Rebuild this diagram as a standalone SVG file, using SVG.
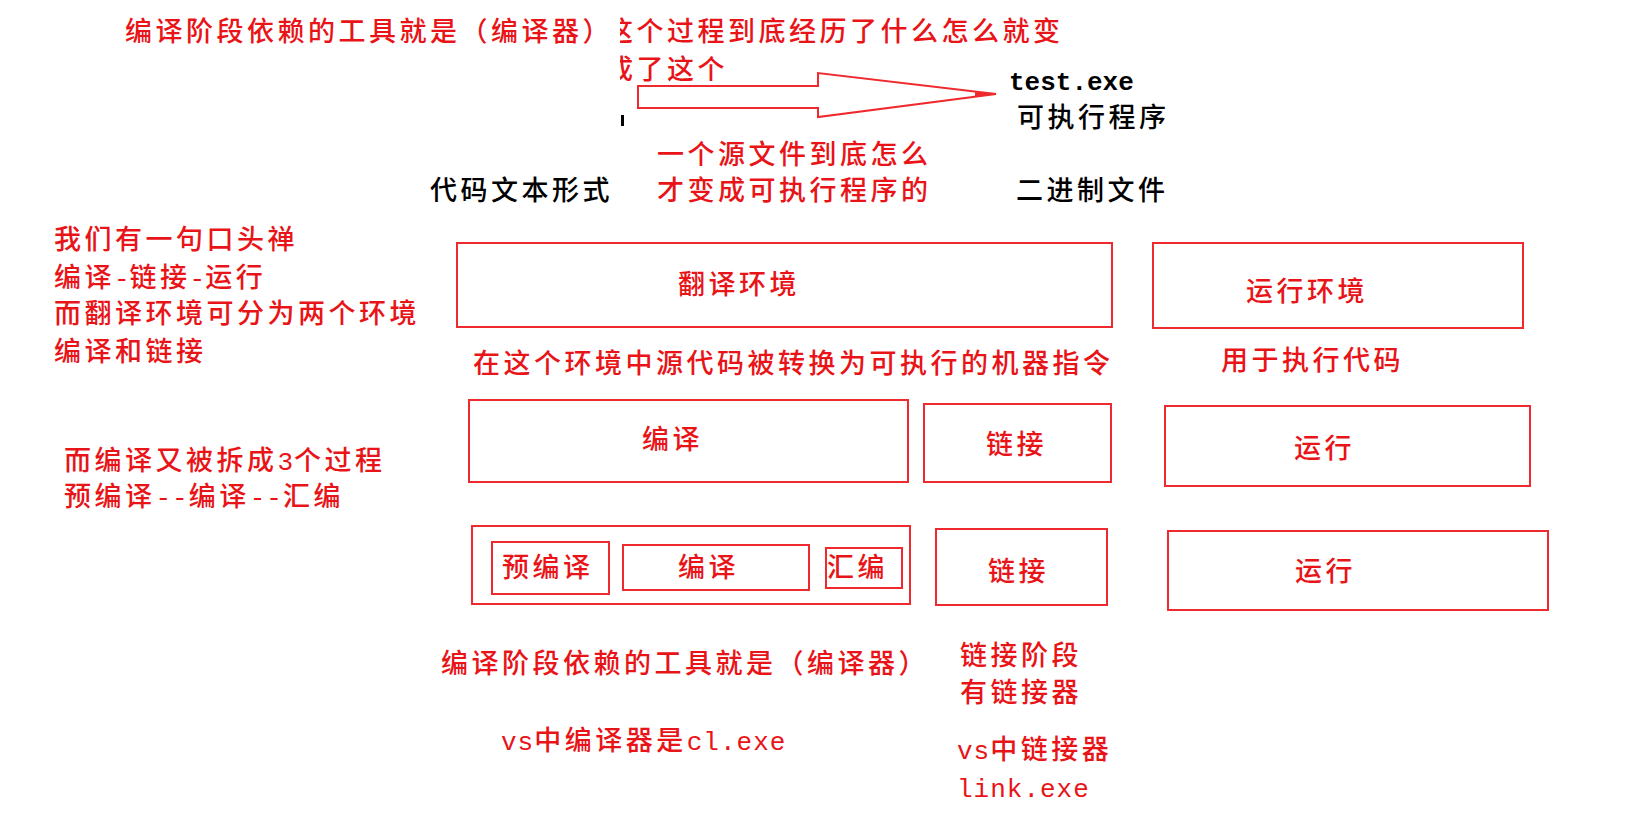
<svg xmlns="http://www.w3.org/2000/svg" width="1631" height="827" viewBox="0 0 1631 827">
  <style>
    .t { font-family: "Noto Sans CJK SC", "Liberation Sans", sans-serif; font-size: 27px; letter-spacing: 3.5px; font-weight: 500; }
    .r { fill: #e81418; }
    .k { fill: #000000; }
    .m { font-family: "Liberation Mono", monospace; font-size: 26px; letter-spacing: 1px; font-weight: normal; }
    .box { fill: none; stroke: #ee2a2e; stroke-width: 2; }
  </style>
  <defs>
    <clipPath id="clipTop">
      <rect x="620" y="0" width="1011" height="100"/>
    </clipPath>
  </defs>
  <rect width="1631" height="827" fill="#ffffff"/>

  <g id="title">
    <text class="t r" x="125" y="41">编译阶段依赖的工具就是（编译器）</text>
    <g clip-path="url(#clipTop)">
      <text class="t r" x="606" y="41">这个过程到底经历了什么怎么就变</text>
      <text class="t r" x="606" y="79">成了这个</text>
    </g>
    <rect x="621" y="115" width="3" height="11" fill="#000"/>
  </g>

  <g id="connectors">
    <polygon points="638,86 818,86 818,73 996,94 818,117 818,108 638,108" fill="none" stroke="#ee2a2e" stroke-width="2"/>
    <polygon points="975,92 996,94 975,97" fill="#ee2a2e"/>
  </g>

  <g id="exe">
    <text class="m k" x="1009" y="90" style="letter-spacing:0px;font-weight:bold">test.exe</text>
    <text class="t k" x="1017" y="127">可执行程序</text>
    <text class="t k" x="1016" y="200">二进制文件</text>
  </g>
  <g id="source">
    <text class="t k" x="430" y="200">代码文本形式</text>
  </g>
  <g id="question">
    <text class="t r" x="657" y="164">一个源文件到底怎么</text>
    <text class="t r" x="657" y="200">才变成可执行程序的</text>
  </g>

  <g id="notes-left">
    <text class="t r" x="54" y="249">我们有一句口头禅</text>
    <text class="t r" x="54" y="287">编译<tspan class="m" dx="-1" style="letter-spacing:0px">-</tspan>链接<tspan class="m" dx="-1" style="letter-spacing:0px">-</tspan>运行</text>
    <text class="t r" x="54" y="323">而翻译环境可分为两个环境</text>
    <text class="t r" x="54" y="361">编译和链接</text>
    <text class="t r" x="64" y="470">而编译又被拆成<tspan class="m">3</tspan>个过程</text>
    <text class="t r" x="64" y="506">预编译<tspan class="m">--</tspan>编译<tspan class="m">--</tspan>汇编</text>
  </g>

  <g id="translate-env">
    <rect class="box" x="457" y="243" width="655" height="84"/>
    <text class="t r" x="678" y="294">翻译环境</text>
  </g>
  <text class="t r" x="473" y="373">在这个环境中源代码被转换为可执行的机器指令</text>

  <g id="run-env">
    <rect class="box" x="1153" y="243" width="370" height="85"/>
    <text class="t r" x="1246" y="301">运行环境</text>
  </g>
  <text class="t r" x="1221" y="370">用于执行代码</text>

  <g id="compile">
    <rect class="box" x="469" y="400" width="439" height="82"/>
    <text class="t r" x="642" y="449">编译</text>
  </g>
  <g id="link1">
    <rect class="box" x="924" y="404" width="187" height="78"/>
    <text class="t r" x="986" y="454">链接</text>
  </g>
  <g id="run1">
    <rect class="box" x="1165" y="406" width="365" height="80"/>
    <text class="t r" x="1294" y="458">运行</text>
  </g>

  <g id="compile-stages">
    <rect class="box" x="472" y="526" width="438" height="78"/>
    <g id="precompile">
      <rect class="box" x="492" y="542" width="117" height="52"/>
      <text class="t r" x="502" y="577">预编译</text>
    </g>
    <g id="compile2">
      <rect class="box" x="623" y="545" width="186" height="45"/>
      <text class="t r" x="678" y="577">编译</text>
    </g>
    <g id="assemble">
      <rect class="box" x="826" y="548" width="76" height="40"/>
      <text class="t r" x="827" y="577">汇编</text>
    </g>
  </g>
  <g id="link2">
    <rect class="box" x="936" y="529" width="171" height="76"/>
    <text class="t r" x="988" y="581">链接</text>
  </g>
  <g id="run2">
    <rect class="box" x="1168" y="531" width="380" height="79"/>
    <text class="t r" x="1295" y="581">运行</text>
  </g>

  <g id="notes-bottom">
    <text class="t r" x="441" y="673">编译阶段依赖的工具就是（编译器）</text>
    <text class="t r" x="501" y="750"><tspan class="m">vs</tspan>中编译器是<tspan class="m">cl.exe</tspan></text>
    <text class="t r" x="960" y="665">链接阶段</text>
    <text class="t r" x="960" y="702">有链接器</text>
    <text class="t r" x="957" y="759"><tspan class="m">vs</tspan>中链接器</text>
    <text class="m r" x="957" y="797">link.exe</text>
  </g>
</svg>
